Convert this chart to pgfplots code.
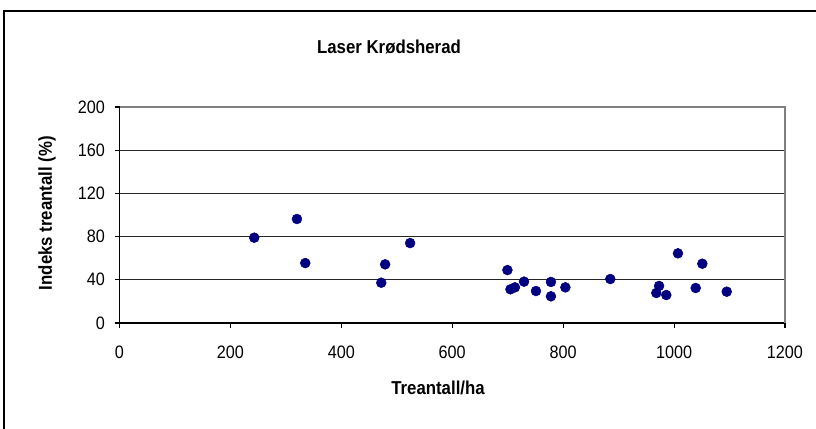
\documentclass[border=0pt]{standalone}
\usepackage{pgfplots}
\pgfplotsset{compat=1.18}
\usepackage{fontspec}
\setmainfont[FakeStretch=0.9]{Liberation Sans}
\definecolor{navy}{HTML}{000080}
\begin{document}
\begin{tikzpicture}[x=0.75pt,y=0.75pt]
\useasboundingbox (0,0) rectangle (816,428);
\fontsize{13.5}{16}\selectfont
\draw[line width=1.1pt,black] (4,-20) -- (4,417) -- (840,417);
\begin{axis}[
  at={(89.625pt,78.75pt)}, anchor=south west,
  scale only axis, width=499.1pt, height=162pt,
  xmin=0, xmax=1200, ymin=0, ymax=200,
  xtick={0,200,...,1200}, ytick={0,40,...,200},
  axis x line*=bottom, axis y line*=left,
  axis line style={black, line width=0.9pt, -},
  tick align=outside, major tick length=3.75pt,
  tick style={black, line width=0.8pt},
  ymajorgrids, major grid style={black!85, line width=0.75pt},
  /pgf/number format/assume math mode=true,
  /pgf/number format/1000 sep={},
  tick label style={font=\fontsize{13.5}{16}\selectfont},
  xticklabel style={yshift=-9pt},
  yticklabel style={xshift=-2.5pt},
  clip=false,
]
\draw[gray, line width=1.6pt] (rel axis cs:0,1) -- (rel axis cs:1,1) -- (rel axis cs:1,0);
\addplot[only marks, mark=*, mark size=3.7pt, color=navy, mark options={fill=navy, draw=navy}] coordinates {
(243,79) (320,96.3) (335,55.5) (472,37.3) (479,54.3) (524,74)
(699.5,49) (705,31.2) (713,33) (729.5,38.3) (751,29.6) (778,38)
(778,24.7) (804,33) (885,40.7) (968,27.8) (973,34.3) (986,25.9)
(1007,64.5) (1039,32.4) (1051,54.9) (1095,29)
};
\end{axis}
\node[font=\fontsize{14}{16}\selectfont\bfseries] at (389,381) {Laser Krødsherad};
\node[font=\fontsize{14}{16}\selectfont\bfseries] at (438,40) {Treantall/ha};
\node[font=\fontsize{14}{16}\selectfont\bfseries, rotate=90] at (47,215) {Indeks treantall (\%)};
\end{tikzpicture}
\end{document}
